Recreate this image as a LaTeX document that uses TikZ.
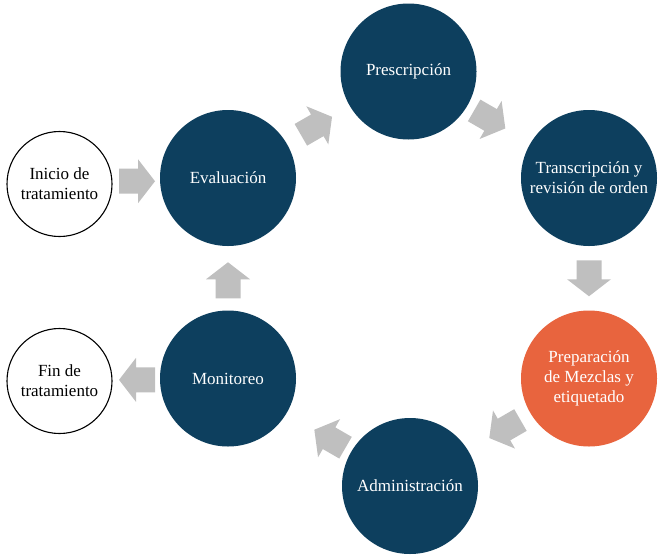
\documentclass[tikz,border=0pt]{standalone}
\usepackage{fontspec}
\setmainfont{Liberation Serif}
\usetikzlibrary{calc}
\definecolor{navy}{RGB}{13,63,94}
\definecolor{orangec}{RGB}{232,100,62}
\definecolor{arrowgray}{RGB}{191,191,191}
\tikzset{
  stage/.style={circle, fill=navy, text=white, minimum size=136pt, inner sep=0pt, align=center,
    font=\fontsize{17pt}{20pt}\selectfont},
  hot/.style={stage, fill=orangec},
  endpoint/.style={circle, draw=black, line width=1.1pt, fill=white, text=black, minimum size=105pt,
    inner sep=0pt, align=center, font=\fontsize{17pt}{20pt}\selectfont},
  blk/.style={fill=arrowgray}
}
\newcommand{\flowarrow}[4]{%
  \fill[blk, shift={($(#1)!#3!(#2)$)}, rotate=#4]
    (-18pt,-12.5pt) -- (1pt,-12.5pt) -- (1pt,-22pt) -- (18pt,0pt) -- (1pt,22pt) -- (1pt,12.5pt) -- (-18pt,12.5pt) -- cycle;}
\begin{document}
\begin{tikzpicture}[x=1pt,y=-1pt]
\useasboundingbox (0,0) rectangle (666,555);
\node[endpoint] (inicio) at (59.5,184) {Inicio de\\tratamiento};
\node[stage] (eval) at (228,178) {Evaluación};
\node[stage] (presc) at (408.5,71.5) {Prescripción};
\node[stage] (trans) at (589,178) {Transcripción y\\revisión de orden};
\node[hot] (prep) at (589,378.5) {Preparación\\de Mezclas y\\etiquetado};
\node[stage] (admin) at (410,486) {Administración};
\node[stage] (mon) at (228,378.5) {Monitoreo};
\node[endpoint] (fin) at (59.5,381) {Fin de\\tratamiento};
\flowarrow{inicio}{eval}{0.46}{0}
\flowarrow{eval}{presc}{0.49}{30}
\flowarrow{presc}{trans}{0.45}{-30}
\flowarrow{trans}{prep}{0.5}{-90}
\flowarrow{prep}{admin}{0.47}{210}
\flowarrow{admin}{mon}{0.44}{150}
\flowarrow{mon}{eval}{0.49}{90}
\flowarrow{mon}{fin}{0.54}{180}
\end{tikzpicture}
\end{document}
